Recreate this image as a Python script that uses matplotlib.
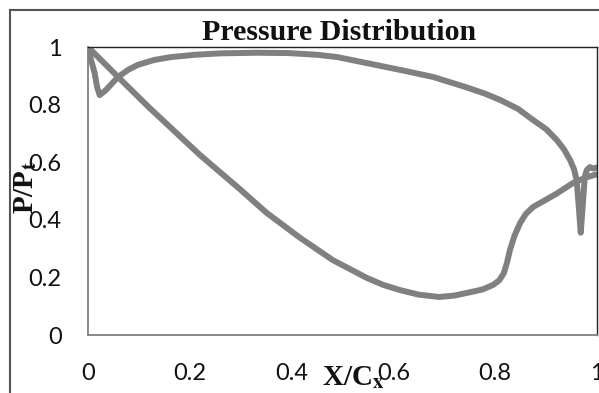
import matplotlib
matplotlib.use("Agg")
import matplotlib.pyplot as plt
from matplotlib.lines import Line2D

plt.rcParams['mathtext.fontset'] = 'stix'

# Pressure side (upper branch)
x_upper = [0.0, 0.006, 0.013, 0.018, 0.023, 0.035, 0.059, 0.08, 0.098, 0.13, 0.163, 0.21, 0.261, 0.33, 0.393,
           0.45, 0.49, 0.548, 0.62, 0.678, 0.74, 0.78, 0.81, 0.845, 0.874, 0.9, 0.921, 0.935, 0.947, 0.955,
           0.96, 0.964, 0.968, 0.972, 0.976, 0.98, 0.986, 0.993, 1.0]
y_upper = [1.0, 0.955, 0.91, 0.86, 0.833, 0.85, 0.896, 0.922, 0.938, 0.955, 0.965, 0.973, 0.978, 0.98, 0.979,
           0.973, 0.965, 0.944, 0.918, 0.896, 0.862, 0.838, 0.816, 0.785, 0.747, 0.715, 0.677, 0.645, 0.608, 0.575,
           0.538, 0.45, 0.355, 0.45, 0.55, 0.573, 0.583, 0.578, 0.582]

# Suction side (lower branch)
x_lower = [0.0, 0.059, 0.12, 0.22, 0.30, 0.351, 0.417, 0.481, 0.548, 0.58, 0.613, 0.65, 0.69, 0.72, 0.744,
           0.775, 0.796, 0.808, 0.817, 0.823, 0.829, 0.838, 0.849, 0.86, 0.874, 0.888, 0.92, 0.953, 0.98, 1.0]
y_lower = [1.0, 0.896, 0.79, 0.625, 0.504, 0.424, 0.337, 0.26, 0.198, 0.174, 0.156, 0.14, 0.132, 0.137, 0.146,
           0.158, 0.174, 0.19, 0.215, 0.25, 0.295, 0.345, 0.389, 0.42, 0.444, 0.458, 0.49, 0.528, 0.548, 0.558]

x_ticks = [0, 0.2, 0.4, 0.6, 0.8, 1]
x_ticklabels = ["0", "0.2", "0.4", "0.6", "0.8", "1"]
y_ticks = [0, 0.2, 0.4, 0.6, 0.8, 1]
y_ticklabels = ["0", "0.2", "0.4", "0.6", "0.8", "1"]

W, H = 599, 393
fig = plt.figure(figsize=(W / 100, H / 100), dpi=100)
ax = fig.add_axes([88 / W, 1 - 335 / H, (597 - 88) / W, (335 - 47) / H])

grey = "#808080"
ax.plot(x_upper, y_upper, color=grey, lw=4.3, solid_joinstyle='round', solid_capstyle='round')
ax.plot(x_lower, y_lower, color=grey, lw=4.3, solid_joinstyle='round', solid_capstyle='round')

ax.set_xlim(0, 1)
ax.set_ylim(0, 1)
ax.set_xticks(x_ticks)
ax.set_xticklabels(x_ticklabels)
ax.set_yticks(y_ticks)
ax.set_yticklabels(y_ticklabels)
ax.tick_params(length=0, labelsize=17, labelcolor="#111111")
ax.tick_params(axis='y', pad=19)
ax.tick_params(axis='x', pad=20)
for lab in ax.get_xticklabels() + ax.get_yticklabels():
    lab.set_fontfamily("Lato")

for s in ['left', 'bottom']:
    ax.spines[s].set_color(grey)
    ax.spines[s].set_linewidth(1.3)
for s in ['top', 'right']:
    ax.spines[s].set_color("#222222")
    ax.spines[s].set_linewidth(1.0)

# outer chart border
fig.add_artist(Line2D([10 / W, 10 / W], [0, 1 - 10 / H], transform=fig.transFigure, color="#555555", lw=1.5))
fig.add_artist(Line2D([10 / W, 1], [1 - 10 / H, 1 - 10 / H], transform=fig.transFigure, color="#555555", lw=1.5))

fig.text(339 / W, 1 - 40 / H, "Pressure Distribution", ha='center', va='baseline',
         fontsize=21.5, fontweight='bold', family='Liberation Serif', color="#111111")
fig.text(353 / W, 1 - 385 / H, r"X/C$_\mathbf{x}$", ha='center', va='baseline',
         fontsize=21, fontweight='bold', family='Liberation Serif', color="#111111")
fig.text(26 / W, 1 - 188 / H, r"P/P$_\mathbf{t}$", ha='center', va='center', rotation=90,
         fontsize=21, fontweight='bold', family='Liberation Serif', color="#111111")

fig.savefig("out.png", dpi=100)
